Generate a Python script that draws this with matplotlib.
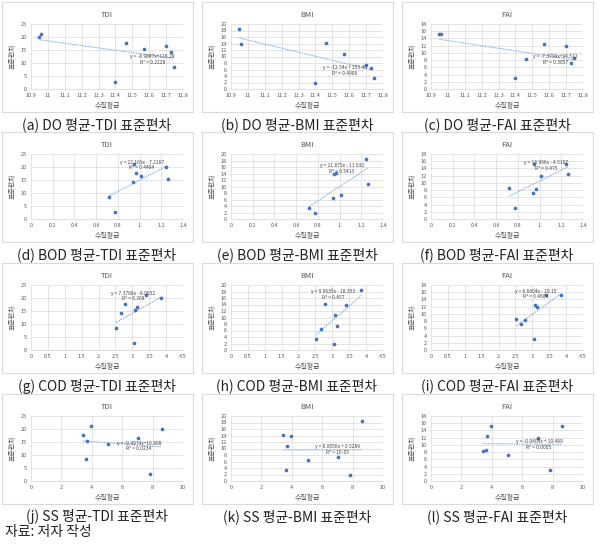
import numpy as np
import matplotlib
matplotlib.use("Agg")
import matplotlib.pyplot as plt
from matplotlib.patches import Rectangle
from matplotlib.ticker import FuncFormatter

plt.rcParams['font.family'] = ['Noto Sans CJK KR', 'DejaVu Sans']

# 8 sites: water quality means and index standard deviations
DO = [10.95, 10.96, 11.40, 11.46, 11.57, 11.70, 11.73, 11.745]
BOD = [1.24, 0.95, 0.77, 0.97, 1.26, 1.01, 0.94, 0.72]
COD = [3.86, 3.40, 3.05, 2.78, 3.07, 3.15, 2.65, 2.52]
SS = [8.6, 3.95, 7.85, 3.42, 3.68, 7.02, 5.05, 3.65]
TDI = [20.1, 21.0, 2.8, 17.7, 15.5, 16.7, 14.2, 8.4]
BMI = [18.4, 13.9, 1.9, 14.2, 10.8, 7.5, 6.5, 3.4]
FAI = [15.3, 15.2, 3.1, 8.3, 12.5, 12.0, 7.3, 8.5]

quality_names = ['DO', 'BOD', 'COD', 'SS']
quality_data = [DO, BOD, COD, SS]
index_names = ['TDI', 'BMI', 'FAI']
index_data = [TDI, BMI, FAI]

x_ranges = [(10.9, 11.8, 0.1), (0, 1.4, 0.2), (0, 4.5, 0.5), (0, 10, 2)]
y_ranges = [(0, 25, 5), (0, 20, 2), (0, 18, 2)]

equations = [
    ['y = -8.9847x+116.28\nR² = 0.2228', 'y = -12.54x + 153.46\nR² = 0.4906', 'y = -7.3799x+94.512\nR² = 0.3057'],
    ['y = 22.169x - 7.2167\nR² = 0.4484', 'y = 21.875x - 11.932\nR² = 0.5413', 'y = 14.996x - 4.5107\nR² = 0.475'],
    ['y = 7.3788x - 8.0652\nR² = 0.268', 'y = 9.0635x - 18.353\nR² = 0.457', 'y = 6.6604x - 10.15\nR² = 0.4609'],
    ['y = -0.4974x+16.868\nR² = 0.0234', 'y = 0.0056x + 9.5289\nR² = 1E-05', 'y = -0.0404x + 10.489\nR² = 0.0005'],
]
eq_pos = [
    [(0.80, 0.46), (0.75, 0.29), (0.82, 0.46)],
    [(0.73, 0.83), (0.73, 0.78), (0.76, 0.82)],
    [(0.67, 0.83), (0.67, 0.85), (0.69, 0.86)],
    [(0.71, 0.54), (0.70, 0.48), (0.71, 0.56)],
]
letters = 'abcdefghijkl'

W, H = 601, 545
fig = plt.figure(figsize=(W / 100, H / 100), dpi=100)

plot_tops = [24, 154, 285, 416]
plot_lefts = [31, 231, 431]
pw, ph = 152, 65

fmt = FuncFormatter(lambda v, p: f'{v:.2f}'.rstrip('0').rstrip('.'))

for r in range(4):
    for c in range(3):
        left, top = plot_lefts[c], plot_tops[r]
        # panel border
        fig.patches.append(Rectangle(((left - 29) / W, 1 - (top + 88) / H), 191 / W, 110 / H,
                                     transform=fig.transFigure, fill=False,
                                     edgecolor='#d9d9d9', linewidth=0.8))
        ax = fig.add_axes([left / W, 1 - (top + ph) / H, pw / W, ph / H])
        x = np.array(quality_data[r])
        y = np.array(index_data[c])
        ax.scatter(x, y, s=7, color='#4472C4', zorder=3, linewidths=0)
        k, b = np.polyfit(x, y, 1)
        xs = np.array([x.min(), x.max()])
        ax.plot(xs, k * xs + b, color='#8fb4e3', lw=0.8, ls=(0, (1.5, 0.8)), zorder=2)

        x0, x1, xs_ = x_ranges[r]
        y0, y1, ys_ = y_ranges[c]
        ax.set_xlim(x0, x1)
        ax.set_ylim(y0, y1)
        ax.set_xticks(np.arange(x0, x1 + xs_ / 2, xs_))
        ax.set_yticks(np.arange(y0, y1 + ys_ / 2, ys_))
        ax.xaxis.set_major_formatter(fmt)
        ax.yaxis.set_major_formatter(fmt)
        ax.grid(True, color='#d9d9d9', lw=0.5)
        ax.set_axisbelow(True)
        for s in ['top', 'right', 'left']:
            ax.spines[s].set_visible(False)
        ax.spines['bottom'].set_color('#d9d9d9')
        ax.spines['bottom'].set_linewidth(0.6)
        ax.tick_params(length=0, labelsize=4, labelcolor='#595959', pad=3)
        ax.set_title(index_names[c], fontsize=5.5, color='#595959', pad=5)
        ax.set_xlabel('수질평균', fontsize=5, color='#595959', labelpad=3)
        ax.set_ylabel('표준편차', fontsize=5, color='#595959', labelpad=3)
        ex, ey = eq_pos[r][c]
        ax.text(ex, ey, equations[r][c], transform=ax.transAxes, fontsize=3.5,
                color='#404040', ha='center', va='center', multialignment='center',
                linespacing=1.2)

        letter = letters[r * 3 + c]
        fig.text((left + 66) / W, 1 - (top + 101) / H,
                 f'({letter}) {quality_names[r]} 평균-{index_names[c]} 표준편차',
                 fontsize=10, ha='center', va='center', color='#222222')

fig.text(5 / W, 1 - 532 / H, '자료: 저자 작성', fontsize=10, ha='left', va='center', color='#222222')

fig.savefig('out.png', dpi=100)
